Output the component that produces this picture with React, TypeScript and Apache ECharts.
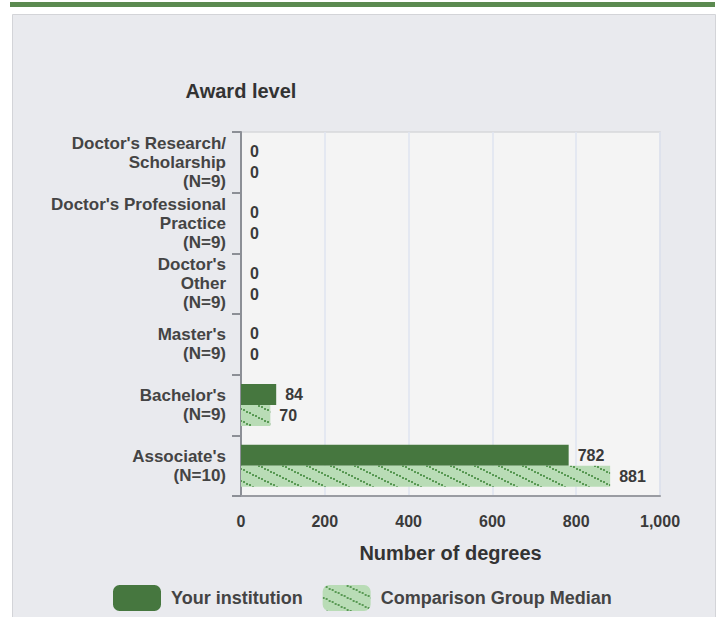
import React, { useEffect, useRef } from "react";
import * as echarts from "echarts";

const categories = [
  "Doctor's Research/\nScholarship\n(N=9)",
  "Doctor's Professional\nPractice\n(N=9)",
  "Doctor's\nOther\n(N=9)",
  "Master's\n(N=9)",
  "Bachelor's\n(N=9)",
  "Associate's\n(N=10)",
];
const institutionValues = [0, 0, 0, 0, 84, 782];
const comparisonValues = [0, 0, 0, 0, 70, 881];
const seriesNames = ["Your institution", "Comparison Group Median"];
const xMin = 0;
const xMax = 1000;
const xInterval = 200;

function makePattern(): HTMLCanvasElement {
  const c = document.createElement("canvas");
  const w = 24;
  const h = 12;
  c.width = w;
  c.height = h;
  const ctx = c.getContext("2d")!;
  ctx.fillStyle = "#b9dcb6";
  ctx.fillRect(0, 0, w, h);
  ctx.fillStyle = "#5a9a55";
  for (let i = 0; i < w; i += 3) {
    const y = Math.floor(i / 2);
    ctx.fillRect(i, y, 2, 2);
  }
  return c;
}

export default function App() {
  const ref = useRef<HTMLDivElement>(null);
  useEffect(() => {
    if (!ref.current) return;
    const chart = echarts.init(ref.current, undefined, { renderer: "svg" });
    const pattern = makePattern();
    const font = "'Liberation Sans', Arial, sans-serif";
    chart.setOption({
      animation: false,
      textStyle: { fontFamily: font },
      graphic: [
        { type: "rect", shape: { x: 10, y: 2, width: 705, height: 5 }, style: { fill: "#5b8a50" }, z: -10 },
        {
          type: "rect",
          shape: { x: 12.5, y: 14.5, width: 703, height: 620 },
          style: { fill: "#e9eaee", stroke: "#d3d4d8", lineWidth: 1 },
          z: -10,
        },
      ],
      grid: {
        left: 241,
        top: 132,
        width: 419,
        height: 364,
        show: true,
        backgroundColor: "#f4f4f4",
        borderColor: "#d6d7da",
        borderWidth: 1.5,
      },
      legend: {
        left: 108,
        top: 580,
        itemWidth: 48,
        itemHeight: 26,
        itemGap: 20,
        icon: "roundRect",
        textStyle: { fontFamily: font, fontSize: 18, fontWeight: "bold", color: "#444", padding: [0, 0, 0, 5] },
        data: seriesNames,
      },
      xAxis: {
        type: "value",
        min: xMin,
        max: xMax,
        interval: xInterval,
        name: "Number of degrees",
        nameLocation: "middle",
        nameGap: 47,
        nameTextStyle: { fontFamily: font, fontSize: 20, fontWeight: "bold", color: "#333" },
        axisLine: { show: true, lineStyle: { color: "#9a9ca2", width: 2 } },
        axisTick: { show: false },
        axisLabel: {
          margin: 17,
          fontFamily: font,
          fontSize: 16,
          fontWeight: "bold",
          color: "#3a3a3a",
          formatter: (v: number) => v.toLocaleString("en-US"),
        },
        splitLine: { show: true, lineStyle: { color: "#dfe5f0", width: 1.5 } },
      },
      yAxis: {
        type: "category",
        data: categories,
        inverse: true,
        name: "Award level",
        nameLocation: "start",
        nameGap: 31,
        nameTextStyle: { fontFamily: font, fontSize: 20, fontWeight: "bold", color: "#333", align: "center" },
        axisLine: { show: true, lineStyle: { color: "#8c8f96", width: 2 } },
        axisTick: { show: true, length: 9, lineStyle: { color: "#8c8f96", width: 2 } },
        axisLabel: {
          margin: 15,
          fontFamily: font,
          fontSize: 17,
          lineHeight: 19,
          fontWeight: "bold",
          color: "#444",
          align: "right",
        },
        splitLine: { show: false },
      },
      series: [
        {
          name: seriesNames[0],
          type: "bar",
          data: institutionValues,
          barWidth: 21,
          barGap: "0%",
          itemStyle: { color: "#46773f" },
          label: {
            show: true,
            position: "right",
            distance: 9,
            fontFamily: font,
            fontSize: 16,
            fontWeight: "bold",
            color: "#3a3a3a",
          },
        },
        {
          name: seriesNames[1],
          type: "bar",
          data: comparisonValues,
          barWidth: 21,
          barGap: "0%",
          itemStyle: { color: { image: pattern, repeat: "repeat" } },
          label: {
            show: true,
            position: "right",
            distance: 9,
            fontFamily: font,
            fontSize: 16,
            fontWeight: "bold",
            color: "#3a3a3a",
          },
        },
      ],
    });
    return () => chart.dispose();
  }, []);
  return (
    <div
      ref={ref}
      style={{ position: "fixed", left: 0, top: 0, width: 720, height: 617, background: "#ffffff" }}
    />
  );
}
